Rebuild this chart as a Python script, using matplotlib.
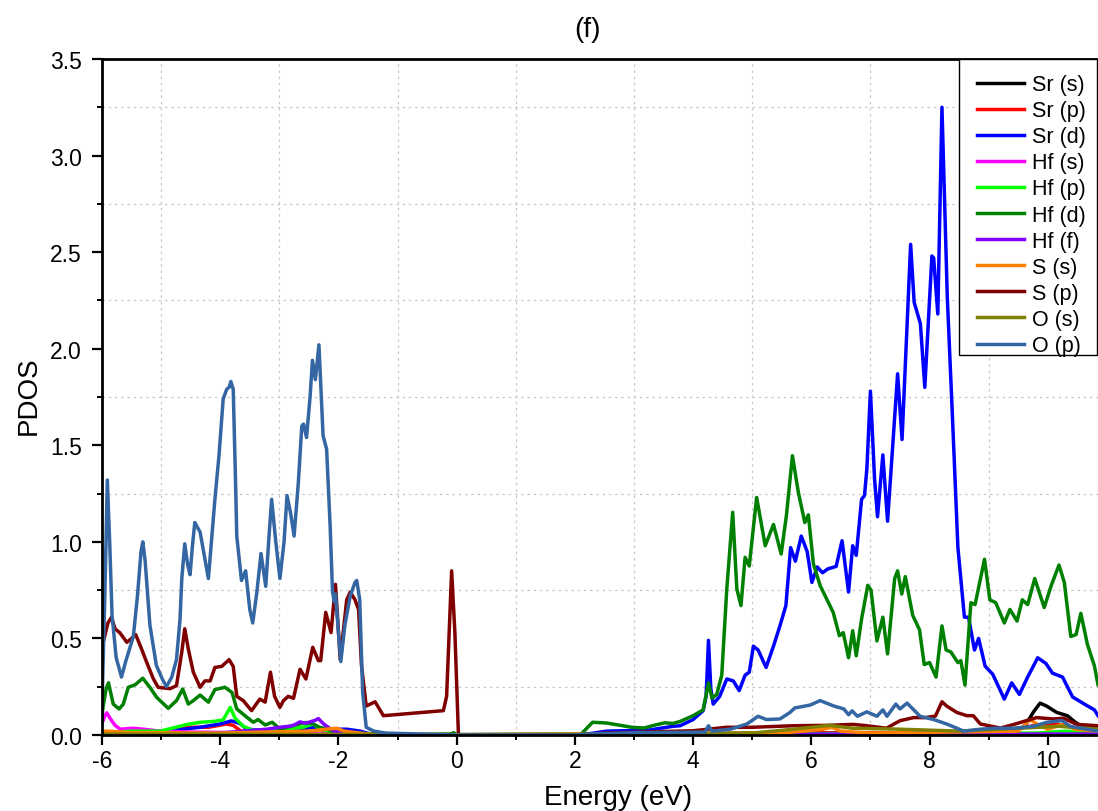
import matplotlib
matplotlib.use("Agg")
import matplotlib.pyplot as plt
from matplotlib.patches import Rectangle
from matplotlib.ticker import MultipleLocator, FormatStrFormatter

plt.rcParams['font.family'] = ['Liberation Sans', 'DejaVu Sans']
plt.rcParams['axes.unicode_minus'] = False

# ---- projected DOS (energy in eV, PDOS in states/eV) ----
sr_s_e = [-6.0, -1.5, 6.0, 9.3, 9.6, 9.76, 9.87, 9.98, 10.15, 10.33, 10.47, 10.6, 10.85]
sr_s_v = [0.005, 0.0, 0.01, 0.01, 0.04, 0.12, 0.165, 0.15, 0.117, 0.10, 0.065, 0.04, 0.03]

sr_p_e = [-6.0, -5.5, -4.91, -4.68, -4.45, -4.2, -3.89, -3.78, -3.65, -3.0, -2.6, -2.47,
          -2.35, -2.1, -1.5, 4.0, 6.0, 9.0, 9.8, 10.1, 10.4, 10.85]
sr_p_v = [0.01, 0.015, 0.015, 0.04, 0.04, 0.04, 0.057, 0.05, 0.02, 0.015, 0.03, 0.04,
          0.03, 0.015, 0.0, 0.0, 0.01, 0.01, 0.05, 0.06, 0.04, 0.02]

sr_d_e = [-6.0, -4.91, -4.34, -4.0, -3.81, -3.67, -3.55, -3.1, -2.43, -2.1, -1.86, -1.63,
          -1.4, 2.1, 2.54, 3.24, 3.66, 3.78, 4.0, 4.17, 4.22, 4.26, 4.3, 4.34, 4.45,
          4.57, 4.68, 4.78, 4.88, 4.95, 5.02, 5.1, 5.235, 5.36, 5.47, 5.57, 5.65, 5.73,
          5.83, 5.93, 6.01, 6.1, 6.19, 6.28, 6.42, 6.52, 6.63, 6.7, 6.76, 6.85, 6.9,
          6.94, 7.0, 7.07, 7.12, 7.21, 7.29, 7.46, 7.535, 7.68, 7.74, 7.845, 7.92, 8.04,
          8.07, 8.14, 8.21, 8.3, 8.39, 8.48, 8.59, 8.66, 8.76, 8.83, 8.94, 9.07, 9.265,
          9.39, 9.52, 9.66, 9.83, 9.97, 10.08, 10.25, 10.42, 10.62, 10.79, 10.85]
sr_d_v = [0.005, 0.02, 0.04, 0.057, 0.073, 0.06, 0.03, 0.02, 0.04, 0.03, 0.03, 0.02,
          0.0, 0.0, 0.02, 0.025, 0.045, 0.048, 0.08, 0.126, 0.20, 0.49, 0.24, 0.16, 0.20,
          0.29, 0.28, 0.23, 0.31, 0.325, 0.46, 0.44, 0.35, 0.46, 0.566, 0.67, 0.97, 0.90,
          1.03, 0.95, 0.79, 0.87, 0.84, 0.86, 0.873, 1.006, 0.74, 0.98, 0.93, 1.22, 1.24,
          1.38, 1.78, 1.325, 1.13, 1.45, 1.107, 1.87, 1.53, 2.54, 2.24, 2.13, 1.80, 2.48,
          2.47, 2.18, 3.25, 2.27, 1.63, 0.97, 0.61, 0.61, 0.44, 0.50, 0.357, 0.314, 0.186,
          0.27, 0.21, 0.30, 0.40, 0.37, 0.32, 0.30, 0.197, 0.16, 0.13, 0.10]

hf_s_e = [-6.0, -5.95, -5.92, -5.86, -5.78, -5.69, -5.47, -5.3, -5.02, -4.5, -3.0, -1.5, 10.85]
hf_s_v = [0.06, 0.10, 0.115, 0.085, 0.05, 0.03, 0.035, 0.03, 0.02, 0.015, 0.01, 0.0, 0.0]

hf_p_e = [-6.0, -5.5, -5.0, -4.91, -4.57, -4.34, -4.12, -3.95, -3.83, -3.75, -3.61,
          -3.44, -3.1, -2.6, -2.43, -2.3, -2.0, -1.5, 4.3, 9.8, 10.3, 10.85]
hf_p_v = [0.01, 0.02, 0.02, 0.028, 0.054, 0.066, 0.07, 0.078, 0.143, 0.088, 0.045,
          0.024, 0.02, 0.04, 0.057, 0.03, 0.01, 0.0, 0.005, 0.01, 0.02, 0.01]

hf_d_e = [-6.0, -5.98, -5.93, -5.89, -5.81, -5.71, -5.64, -5.555, -5.44, -5.31, -5.19,
          -5.075, -4.88, -4.74, -4.635, -4.54, -4.455, -4.34, -4.2, -4.09, -3.92, -3.8,
          -3.72, -3.55, -3.44, -3.36, -3.24, -3.12, -2.99, -2.76, -2.54, -2.43, -2.32,
          -2.1, -1.8, -1.0, -0.1, -0.05, 0.0, 2.09, 2.3, 2.54, 2.96, 3.17, 3.31, 3.52,
          3.66, 3.78, 4.0, 4.17, 4.26, 4.32, 4.4, 4.485, 4.57, 4.67, 4.74, 4.81, 4.88,
          4.95, 5.075, 5.22, 5.36, 5.49, 5.58, 5.68, 5.78, 5.89, 5.95, 6.035, 6.15, 6.37,
          6.475, 6.54, 6.63, 6.7, 6.76, 6.85, 6.955, 7.01, 7.11, 7.21, 7.29, 7.41, 7.46,
          7.53, 7.59, 7.715, 7.83, 7.91, 8.0, 8.11, 8.21, 8.28, 8.36, 8.48, 8.53, 8.6,
          8.7, 8.77, 8.93, 9.02, 9.12, 9.265, 9.36, 9.48, 9.57, 9.66, 9.78, 9.94, 10.06,
          10.19, 10.28, 10.39, 10.48, 10.56, 10.67, 10.79, 10.85]
hf_d_v = [0.10, 0.15, 0.24, 0.27, 0.16, 0.135, 0.16, 0.247, 0.26, 0.294, 0.247,
          0.195, 0.138, 0.178, 0.238, 0.16, 0.178, 0.207, 0.17, 0.235, 0.247, 0.22,
          0.135, 0.092, 0.066, 0.08, 0.052, 0.066, 0.03, 0.05, 0.065, 0.057, 0.04,
          0.02, 0.01, 0.002, 0.005, 0.012, 0.0, 0.0, 0.066, 0.062, 0.04, 0.036, 0.048, 0.063,
          0.06, 0.07, 0.10, 0.13, 0.27, 0.19, 0.21, 0.31, 0.756, 1.153, 0.756, 0.67, 0.92,
          0.875, 1.23, 0.98, 1.09, 0.937, 1.14, 1.446, 1.257, 1.10, 1.14, 0.886, 0.773, 0.635,
          0.514, 0.53, 0.40, 0.54, 0.41, 0.60, 0.775, 0.75, 0.487, 0.61, 0.42, 0.81, 0.85,
          0.73, 0.82, 0.62, 0.545, 0.365, 0.375, 0.30, 0.565, 0.44, 0.43, 0.375, 0.385, 0.258,
          0.685, 0.675, 0.91, 0.70, 0.685, 0.58, 0.65, 0.59, 0.70, 0.675, 0.81, 0.66, 0.775,
          0.88, 0.79, 0.51, 0.52, 0.63, 0.47, 0.357, 0.26]

hf_f_e = [-6.0, -4.0, -3.21, -2.99, -2.84, -2.76, -2.65, -2.55, -2.48, -2.4, -2.34,
          -2.25, -2.08, -1.8, -1.5, 5.5, 6.0, 8.0, 10.85]
hf_f_v = [0.005, 0.01, 0.03, 0.04, 0.045, 0.05, 0.068, 0.06, 0.068, 0.075, 0.085,
          0.057, 0.02, 0.005, 0.0, 0.0, 0.005, 0.005, 0.005]

s_s_e = [-6.0, -5.9, -5.5, -4.0, -2.5, -2.2, -2.03, -1.9, -1.5, -1.0, 5.5, 6.2, 6.35,
         6.5, 7.0, 9.5, 9.7, 9.8, 10.0, 10.3, 10.45, 10.85]
s_s_v = [0.02, 0.02, 0.012, 0.01, 0.02, 0.03, 0.035, 0.02, 0.005, 0.0, 0.01, 0.03, 0.04,
         0.02, 0.01, 0.02, 0.08, 0.06, 0.03, 0.06, 0.03, 0.02]

s_p_e = [-6.0, -5.98, -5.9, -5.84, -5.78, -5.7, -5.58, -5.5, -5.43, -5.33, -5.245,
         -5.13, -5.05, -4.85, -4.74, -4.65, -4.6, -4.54, -4.455, -4.34, -4.26, -4.17,
         -4.09, -3.975, -3.85, -3.78, -3.72, -3.61, -3.47, -3.33, -3.24, -3.15, -3.08,
         -2.99, -2.93, -2.85, -2.76, -2.65, -2.55, -2.435, -2.34, -2.3, -2.215, -2.125,
         -2.05, -1.97, -1.86, -1.8, -1.72, -1.66, -1.61, -1.53, -1.38, -1.24, -0.225,
         -0.17, -0.085, -0.03, 0.03, 2.0, 2.5, 4.0, 4.57, 5.0, 5.7, 6.27, 6.71, 6.94,
         7.27, 7.5, 7.73, 7.93, 8.1, 8.21, 8.29, 8.46, 8.63, 8.74, 8.86, 9.2, 9.43, 9.81,
         10.1, 10.27, 10.49, 10.85]
s_p_v = [0.45, 0.48, 0.58, 0.61, 0.55, 0.53, 0.48, 0.50, 0.52, 0.445, 0.377,
         0.29, 0.247, 0.24, 0.255, 0.43, 0.55, 0.445, 0.325, 0.247, 0.28, 0.28,
         0.35, 0.355, 0.39, 0.355, 0.20, 0.178, 0.126, 0.186, 0.17, 0.325, 0.20,
         0.143, 0.178, 0.20, 0.19, 0.34, 0.29, 0.454, 0.385, 0.385, 0.635, 0.53,
         0.78, 0.39, 0.70, 0.74, 0.70, 0.65, 0.36, 0.15, 0.172, 0.10, 0.126,
         0.20, 0.85, 0.53, 0.0, 0.0, 0.01, 0.022, 0.04, 0.04, 0.048, 0.05, 0.055, 0.048,
         0.035, 0.074, 0.09, 0.09, 0.098, 0.172, 0.15, 0.117, 0.10, 0.10, 0.057, 0.036,
         0.055, 0.09, 0.083, 0.087, 0.055, 0.048]

o_s_e = [-6.0, -1.5, 2.0, 5.0, 5.7, 6.3, 6.7, 7.5, 8.5, 9.5, 10.2, 10.85]
o_s_v = [0.005, 0.003, 0.0, 0.01, 0.03, 0.05, 0.035, 0.03, 0.02, 0.035, 0.045, 0.03]

o_p_e = [-6.0, -5.95, -5.91, -5.87, -5.83, -5.76, -5.67, -5.6, -5.47, -5.4, -5.34,
         -5.31, -5.27, -5.19, -5.08, -4.98, -4.91, -4.82, -4.74, -4.68, -4.65, -4.6,
         -4.55, -4.51, -4.47, -4.43, -4.34, -4.27, -4.2, -4.09, -4.02, -3.95, -3.89,
         -3.85, -3.82, -3.78, -3.74, -3.72, -3.64, -3.57, -3.5, -3.45, -3.38, -3.31,
         -3.23, -3.17, -3.13, -3.06, -2.99, -2.92, -2.87, -2.81, -2.75, -2.68, -2.62,
         -2.59, -2.54, -2.48, -2.44, -2.39, -2.33, -2.26, -2.2, -2.14, -2.1, -2.07,
         -2.05, -2.0, -1.96, -1.89, -1.8, -1.72, -1.69, -1.64, -1.59, -1.53, -1.4, -1.2,
         0.0, 2.0, 2.2, 3.0, 4.2, 4.26, 4.32, 4.63, 4.91, 5.1, 5.24, 5.47, 5.64, 5.72,
         5.98, 6.15, 6.38, 6.55, 6.63, 6.69, 6.78, 6.94, 7.11, 7.21, 7.28, 7.43, 7.5,
         7.62, 7.84, 8.07, 8.29, 8.58, 8.86, 9.14, 9.43, 9.76, 9.98, 10.24, 10.38, 10.85]
o_p_v = [0.15, 0.75, 1.32, 1.00, 0.62, 0.40, 0.30, 0.38, 0.51, 0.72, 0.95,
         1.00, 0.90, 0.57, 0.36, 0.29, 0.25, 0.30, 0.39, 0.60, 0.81, 0.99,
         0.88, 0.83, 0.98, 1.10, 1.05, 0.93, 0.81, 1.22, 1.45, 1.74, 1.79,
         1.80, 1.83, 1.79, 1.30, 1.03, 0.80, 0.85, 0.65, 0.58, 0.74, 0.94,
         0.77, 1.05, 1.22, 1.00, 0.81, 1.00, 1.24, 1.15, 1.03, 1.30, 1.60,
         1.61, 1.54, 1.75, 1.94, 1.84, 2.02, 1.55, 1.48, 1.08, 0.74, 0.69,
         0.73, 0.53, 0.38, 0.57, 0.72, 0.79, 0.80, 0.70, 0.22, 0.04, 0.02, 0.01,
         0.0, 0.0, 0.005, 0.012, 0.015, 0.048, 0.02, 0.03, 0.057, 0.097, 0.08, 0.083, 0.117, 0.14,
         0.155, 0.178, 0.15, 0.135, 0.105, 0.125, 0.097, 0.12, 0.097, 0.13, 0.097, 0.16, 0.135,
         0.165, 0.097, 0.08, 0.057, 0.02, 0.03, 0.035, 0.035, 0.045, 0.065, 0.075, 0.045, 0.02]

labels = ["Sr (s)", "Sr (p)", "Sr (d)", "Hf (s)", "Hf (p)", "Hf (d)", "Hf (f)",
          "S (s)", "S (p)", "O (s)", "O (p)"]
colors = ["#000000", "#FF0000", "#0000FF", "#FF00FF", "#00FF00", "#008000",
          "#8000FF", "#FF8000", "#800000", "#808000", "#3366A3"]
series = [(sr_s_e, sr_s_v), (sr_p_e, sr_p_v), (sr_d_e, sr_d_v), (hf_s_e, hf_s_v),
          (hf_p_e, hf_p_v), (hf_d_e, hf_d_v), (hf_f_e, hf_f_v), (s_s_e, s_s_v),
          (s_p_e, s_p_v), (o_s_e, o_s_v), (o_p_e, o_p_v)]

W, H = 1098, 812
AX_L, AX_R, AX_T, AX_B = 102, 1098, 60, 736
fig = plt.figure(figsize=(W / 100, H / 100), dpi=100)
ax = fig.add_axes([AX_L / W, 1 - AX_B / H, (AX_R - AX_L) / W, (AX_B - AX_T) / H])

for (e, v), lab, c in zip(series, labels, colors):
    ax.plot(e, v, color=c, lw=2.5, label=lab, solid_joinstyle='round')

ax.set_xlim(-6, 10.85)
ax.set_ylim(0, 3.5)
ax.xaxis.set_major_locator(MultipleLocator(2))
ax.xaxis.set_minor_locator(MultipleLocator(1))
ax.yaxis.set_major_locator(MultipleLocator(0.5))
ax.yaxis.set_minor_locator(MultipleLocator(0.25))
ax.yaxis.set_major_formatter(FormatStrFormatter('%.1f'))

ax.grid(which='minor', color='#c8c8c8', linestyle=(0, (2, 3)), linewidth=0.9)
ax.grid(which='major', visible=False)
ax.set_axisbelow(True)

for side in ('left', 'bottom', 'top'):
    ax.spines[side].set_linewidth(2.0)
ax.spines['right'].set_visible(False)

ax.tick_params(which='major', direction='out', length=7, width=1.6, labelsize=16.5)
ax.tick_params(axis='y', which='major', pad=7.5)
ax.tick_params(axis='x', which='major', pad=3)
ax.tick_params(which='minor', direction='out', length=3.6, width=1.4)
ax.tick_params(top=False, right=False, which='both')

# legend box drawn as a plain white frame so its padding can be set per side
ax_w, ax_h = AX_R - AX_L, AX_B - AX_T
box_l, box_r, box_t, box_b = 959, 1097, 60, 356
ax.add_patch(Rectangle(((box_l - AX_L) / ax_w, (AX_B - box_b) / ax_h),
                       (box_r - box_l) / ax_w, (box_b - box_t) / ax_h,
                       transform=ax.transAxes, facecolor='white', edgecolor='black',
                       linewidth=1.0, zorder=4.5, clip_on=False))
leg = ax.legend(loc='upper left', bbox_to_anchor=((962 - AX_L) / ax_w, 1.0),
                borderaxespad=0, fontsize=15.5, frameon=False,
                handlelength=2.2, handletextpad=0.33, labelspacing=0.237,
                borderpad=0.7)
leg.set_zorder(5)
for ln in leg.get_lines():
    ln.set_linewidth(2.5)

fig.text(587 / W, 1 - 37 / H, "(f)", fontsize=20, ha='center', va='baseline')
fig.text(618 / W, 1 - 805 / H, "Energy (eV)", fontsize=20, ha='center', va='baseline')
fig.text(36 / W, 1 - 396 / H, "PDOS", fontsize=20, ha='center', va='baseline',
         rotation=90, rotation_mode='anchor')

fig.savefig("out.png", dpi=100)
